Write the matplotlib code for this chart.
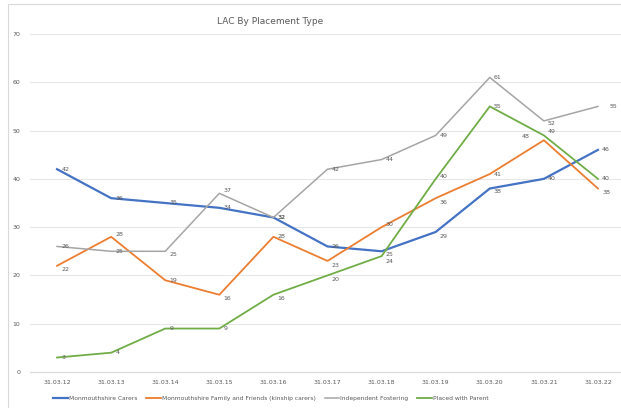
import matplotlib.pyplot as plt
from matplotlib.patches import Rectangle

years = ["31.03.12", "31.03.13", "31.03.14", "31.03.15", "31.03.16", "31.03.17",
         "31.03.18", "31.03.19", "31.03.20", "31.03.21", "31.03.22"]
carers = [42, 36, 35, 34, 32, 26, 25, 29, 38, 40, 46]
family = [22, 28, 19, 16, 28, 23, 30, 36, 41, 48, 38]
fostering = [26, 25, 25, 37, 32, 42, 44, 49, 61, 52, 55]
parent = [3, 4, 9, 9, 16, 20, 24, 40, 55, 49, 40]

names = ["Monmouthshire Carers", "Monmouthshire Family and Friends (kinship carers)",
         "Independent Fostering", "Placed with Parent"]
colors = ["#4472C4", "#ED7D31", "#A5A5A5", "#70AD47"]
widths = [1.6, 1.3, 1.1, 1.3]

# label offsets in points (dx, dy), default is just right of the point
offsets = {
    (0, 6): (3, -2), (0, 7): (3, -3), (0, 8): (3, -2),
    (1, 0): (3, -3), (1, 1): (3, 2), (1, 3): (3, -3), (1, 5): (3, -3),
    (1, 6): (3, 2), (1, 7): (3, -3), (1, 9): (-16, 3), (1, 10): (3, -3),
    (2, 2): (3, -2), (2, 3): (3, 2), (2, 9): (3, -2), (2, 10): (8, 0),
    (3, 4): (3, -3), (3, 5): (3, -3), (3, 6): (3, -4), (3, 7): (3, 2),
    (3, 9): (3, 3),
}

fig = plt.figure(figsize=(6.21, 4.08), dpi=100)
fig.patches.append(Rectangle((8 / 621, -0.1), 1.2, 1 - 4 / 408 + 0.1,
                             transform=fig.transFigure, fill=False,
                             edgecolor="#d9d9d9", linewidth=0.8))
ax = fig.add_axes([30 / 621, 36 / 408, 595 / 621, 338 / 408])

x = list(range(len(years)))
series = [carers, family, fostering, parent]
for i, vals in enumerate(series):
    ax.plot(x, vals, color=colors[i], linewidth=widths[i], label=names[i], zorder=3)
    for j, v in enumerate(vals):
        dx, dy = offsets.get((i, j), (3, 0))
        ax.annotate(str(v), (j, v), xytext=(dx, dy), textcoords="offset points",
                    fontsize=4.5, color="#595959", va="center", ha="left", zorder=4)

ax.set_xlim(-0.5, 10.5)
ax.set_ylim(0, 70)
ax.set_yticks(range(0, 71, 10))
ax.set_xticks(x)
ax.set_xticklabels(years)
ax.grid(axis="y", color="#e6e6e6", linewidth=0.7)
ax.set_axisbelow(True)
for s in ["top", "right", "left"]:
    ax.spines[s].set_visible(False)
ax.spines["bottom"].set_color("#d9d9d9")
ax.tick_params(length=0, labelsize=4.5, colors="#595959")
ax.tick_params(axis="y", pad=7)
ax.tick_params(axis="x", pad=6)

fig.text(270 / 621, 1 - 22 / 408, "LAC By Placement Type", ha="center", va="center",
         fontsize=6.5, color="#595959")
fig.legend(loc="center", bbox_to_anchor=(271 / 621, 1 - 398 / 408), ncol=4,
           frameon=False, fontsize=4.3, handlelength=2.4, columnspacing=1.5,
           handletextpad=0.2, labelcolor="#595959")

fig.savefig("out.png", dpi=100)
